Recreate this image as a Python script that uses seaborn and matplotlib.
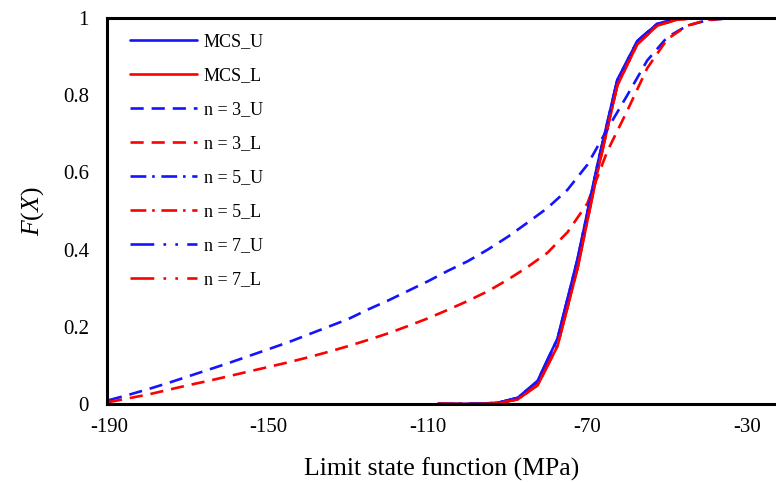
import numpy as np
import pandas as pd
import seaborn as sns
import matplotlib.pyplot as plt

# 样式与字体（Times 风格 -> Liberation Serif）
sns.set_style('white')
plt.rcParams['font.family'] = ['Liberation Serif', 'DejaVu Serif']
plt.rcParams['mathtext.fontset'] = 'custom'
plt.rcParams['mathtext.rm'] = 'Liberation Serif'
plt.rcParams['mathtext.it'] = 'Liberation Serif:italic'
plt.rcParams['axes.unicode_minus'] = False
plt.rcParams['text.color'] = 'black'
plt.rcParams['axes.labelcolor'] = 'black'

# 数据：MCS 及 n=5, n=7 的 x 网格
x_mcs = [-107.5, -102.5, -97.5, -92.5, -87.5, -82.5, -77.5, -72.5, -67.5,
         -62.5, -57.5, -52.5, -47.5, -42.5, -37.5, -32.5, -27.5, -22.5]
mcs_u = [0.0, 0.0, 0.001, 0.003, 0.016, 0.060, 0.170, 0.375, 0.620,
         0.840, 0.940, 0.985, 0.998, 1.0, 1.0, 1.0, 1.0, 1.0]
mcs_l = [0.0, 0.0, 0.0, 0.002, 0.012, 0.048, 0.150, 0.350, 0.600,
         0.825, 0.932, 0.980, 0.996, 1.0, 1.0, 1.0, 1.0, 1.0]
n5_u = [0.0, 0.0, 0.001, 0.003, 0.015, 0.058, 0.168, 0.372, 0.618,
        0.838, 0.940, 0.985, 0.998, 1.0, 1.0, 1.0, 1.0, 1.0]
n5_l = [0.0, 0.0, 0.0, 0.002, 0.012, 0.050, 0.152, 0.352, 0.602,
        0.827, 0.933, 0.981, 0.996, 1.0, 1.0, 1.0, 1.0, 1.0]
n7_u = [0.0, 0.0, 0.001, 0.003, 0.016, 0.059, 0.169, 0.374, 0.619,
        0.839, 0.940, 0.985, 0.998, 1.0, 1.0, 1.0, 1.0, 1.0]
n7_l = [0.0, 0.0, 0.0, 0.002, 0.012, 0.049, 0.151, 0.351, 0.601,
        0.826, 0.932, 0.980, 0.996, 1.0, 1.0, 1.0, 1.0, 1.0]

# n = 3 的 x 网格
x_n3 = [-190, -185, -180, -175, -170, -165, -160, -155, -150, -145, -140,
        -135, -130, -125, -120, -115, -110, -105, -100, -95, -90, -85, -80,
        -75, -70, -65, -60, -55, -50, -45, -40, -35, -30, -25, -20]
n3_u = [0.010, 0.024, 0.039, 0.055, 0.072, 0.089, 0.106, 0.124, 0.142, 0.160,
        0.180, 0.200, 0.220, 0.245, 0.268, 0.293, 0.318, 0.345, 0.370, 0.400,
        0.433, 0.470, 0.508, 0.555, 0.620, 0.712, 0.800, 0.890, 0.950, 0.980,
        0.994, 0.999, 1.0, 1.0, 1.0]
n3_l = [0.005, 0.015, 0.025, 0.037, 0.049, 0.060, 0.072, 0.084, 0.096, 0.108,
        0.121, 0.135, 0.150, 0.166, 0.183, 0.202, 0.222, 0.244, 0.267, 0.292,
        0.322, 0.355, 0.392, 0.445, 0.520, 0.655, 0.760, 0.870, 0.945, 0.980,
        0.995, 0.999, 1.0, 1.0, 1.0]

x_ticks = [-190, -150, -110, -70, -30]
y_ticks = [0, 0.2, 0.4, 0.6, 0.8, 1]
y_ticklabels = ['0', '0.2', '0.4', '0.6', '0.8', '1']

blue = '#1414FF'
red = '#FF0000'
ls_solid = '-'
ls_dash = (0, (5, 3))
ls_dashdot = (0, (6, 2.2, 1, 2.5))
ls_dashdotdot = (0, (9, 3.5, 1, 3.5, 1, 3.5))

series = [
    ('MCS_U', x_mcs, mcs_u, blue, ls_solid),
    ('MCS_L', x_mcs, mcs_l, red, ls_solid),
    ('n = 3_U', x_n3, n3_u, blue, ls_dash),
    ('n = 3_L', x_n3, n3_l, red, ls_dash),
    ('n = 5_U', x_mcs, n5_u, blue, ls_dashdot),
    ('n = 5_L', x_mcs, n5_l, red, ls_dashdot),
    ('n = 7_U', x_mcs, n7_u, blue, ls_dashdotdot),
    ('n = 7_L', x_mcs, n7_l, red, ls_dashdotdot),
]

fig = plt.figure(figsize=(7.76, 4.82), dpi=100)
ax = fig.add_axes([107 / 776, 78 / 482, 669 / 776, 386 / 482])

for label, xs, ys, c, ls in series:
    df = pd.DataFrame({'x': xs, 'y': ys})
    sns.lineplot(data=df, x='x', y='y', ax=ax, label=label, color=c,
                 linestyle=ls, linewidth=1.9, estimator=None, sort=False)

ax.set_xlim(-190.5, -22.7)
ax.set_ylim(0, 1)
ax.set_xticks(x_ticks)
ax.set_yticks(y_ticks)
ax.set_yticklabels(y_ticklabels)
ax.tick_params(axis='both', labelsize=15, length=5, width=1.5,
               direction='out', color='black', labelcolor='black')
ax.tick_params(axis='x', pad=5)
ax.tick_params(axis='y', pad=8)

ax.set_xlabel('Limit state function (MPa)', fontsize=18.5, labelpad=15)
ax.set_ylabel(r'$F$($X$)', fontsize=18.5, labelpad=12)

for s in ['left', 'bottom', 'top']:
    ax.spines[s].set_visible(True)
    ax.spines[s].set_color('black')
    ax.spines[s].set_linewidth(2.2)
ax.spines['right'].set_visible(False)

ax.legend(loc='upper left', bbox_to_anchor=(0.035, 0.96), frameon=False,
          fontsize=13, handlelength=3.7, handletextpad=0.35,
          labelspacing=0.94, borderaxespad=0, borderpad=0,
          labelcolor='black')

fig.savefig('out.png', dpi=100)
